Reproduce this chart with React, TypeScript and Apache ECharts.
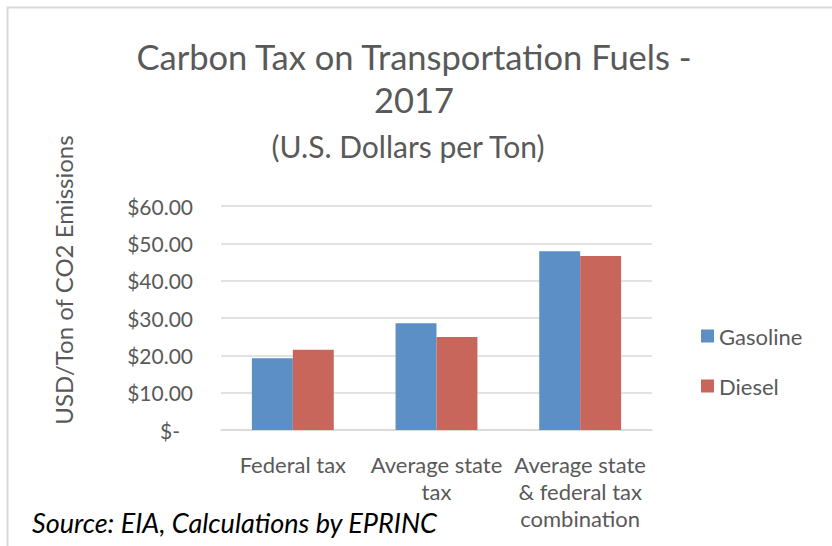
import React, { useEffect, useRef } from "react";
import * as echarts from "echarts";

const categories = ["Federal tax", "Average state\ntax", "Average state\n& federal tax\ncombination"];
const gasoline = [19.2, 28.6, 47.9];
const diesel = [21.5, 24.9, 46.6];
const seriesNames = ["Gasoline", "Diesel"];
const titleLine1 = "Carbon Tax on Transportation Fuels -\n2017";
const subtitle = "(U.S. Dollars per Ton)";
const yAxisName = "USD/Ton of CO2 Emissions";
const sourceText = "Source: EIA, Calculations by EPRINC";

const FONT = "Lato, 'Open Sans', sans-serif";
const GREY = "#595959";

export default function App() {
  const ref = useRef<HTMLDivElement>(null);
  useEffect(() => {
    document.body.style.margin = "0";
    const chart = echarts.init(ref.current!, null, { renderer: "svg" });
    chart.setOption({
      animation: false,
      backgroundColor: "#ffffff",
      textStyle: { fontFamily: FONT },
      title: [
        {
          text: titleLine1,
          left: 414,
          top: 35,
          padding: 0,
          textAlign: "center",
          textStyle: { fontFamily: FONT, fontSize: 34.5, fontWeight: "normal", color: GREY, lineHeight: 43 },
        },
        {
          text: subtitle,
          left: 408,
          top: 131,
          padding: 0,
          textAlign: "center",
          textStyle: { fontFamily: FONT, fontSize: 30, fontWeight: "normal", color: GREY, lineHeight: 30 },
        },
      ],
      graphic: [
        {
          type: "rect",
          shape: { x: 7.5, y: 7.5, width: 900, height: 700 },
          style: { fill: "none", stroke: "#D9D9D9", lineWidth: 2 },
          silent: true,
        },
        {
          type: "text",
          x: 63,
          y: 280,
          rotation: Math.PI / 2,
          style: {
            text: yAxisName,
            font: `24px ${FONT}`,
            fill: GREY,
            align: "center",
            verticalAlign: "middle",
          },
        },
        {
          type: "text",
          x: 32,
          y: 522,
          style: {
            text: sourceText,
            font: `italic 27px ${FONT}`,
            fill: "#000000",
            verticalAlign: "middle",
          },
        },
      ],
      legend: {
        data: seriesNames,
        orient: "vertical",
        left: 701,
        top: 325,
        padding: 0,
        itemWidth: 13,
        itemHeight: 13,
        itemGap: 28,
        icon: "rect",
        textStyle: { fontFamily: FONT, fontSize: 22, color: GREY, lineHeight: 22 },
      },
      grid: { left: 221, right: 180, top: 206, bottom: 116, containLabel: false },
      xAxis: {
        type: "category",
        data: categories,
        axisLine: { lineStyle: { color: "#D9D9D9", width: 1.5 } },
        axisTick: { show: false },
        axisLabel: { fontFamily: FONT, fontSize: 22, color: GREY, lineHeight: 27, margin: 21, interval: 0 },
      },
      yAxis: {
        type: "value",
        min: 0,
        max: 60,
        interval: 10,
        axisLine: { show: false },
        axisTick: { show: false },
        splitLine: { lineStyle: { color: "#D9D9D9", width: 1.5 } },
        axisLabel: {
          fontFamily: FONT,
          fontSize: 21,
          color: GREY,
          margin: 28,
          formatter: (v: number) => (v === 0 ? "{z|$-}" : "$" + v.toFixed(2)),
          rich: { z: { fontFamily: FONT, fontSize: 21, color: GREY, padding: [0, 13, 0, 0] } },
        },
      },
      series: [
        {
          name: seriesNames[0],
          type: "bar",
          data: gasoline,
          barGap: "0%",
          barCategoryGap: "43%",
          itemStyle: { color: "#5B8FC6" },
        },
        {
          name: seriesNames[1],
          type: "bar",
          data: diesel,
          itemStyle: { color: "#C9665B" },
        },
      ],
    });
    return () => chart.dispose();
  }, []);
  return <div ref={ref} style={{ width: 832, height: 546 }} />;
}
